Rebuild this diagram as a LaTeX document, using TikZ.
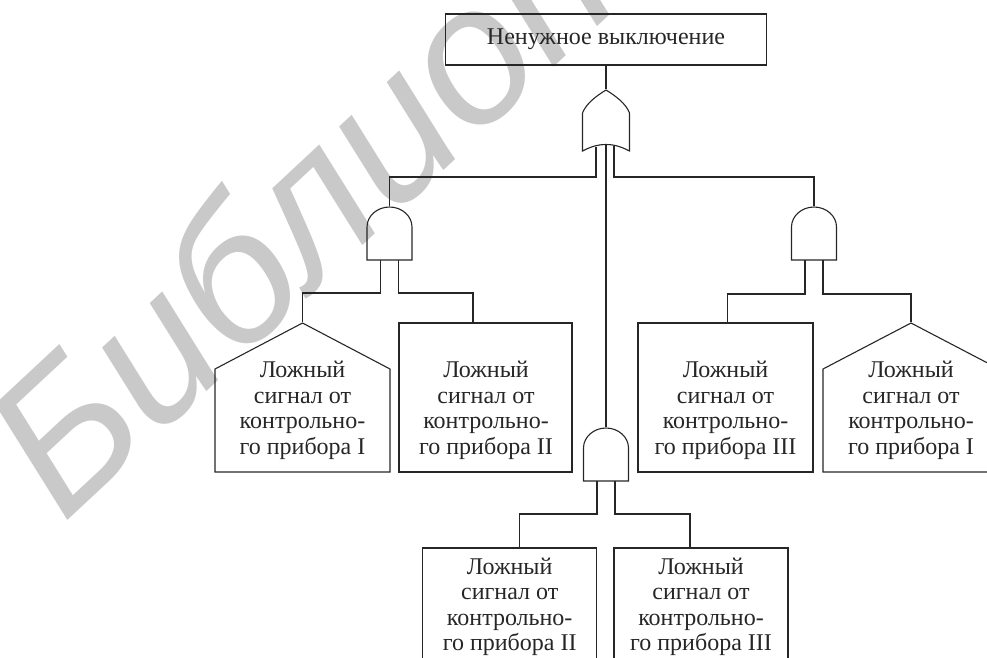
\documentclass[tikz,border=0pt]{standalone}
\usepackage{fontspec}
\setmainfont{Liberation Serif}
\newfontfamily\wmfont{Liberation Sans}
\usetikzlibrary{calc}
\tikzset{
  lbl/.style={font=\fontsize{24}{25.5}\selectfont, align=center, inner sep=0pt},
  evbox/.style={draw, minimum width=#1, minimum height=149pt, inner sep=0pt},
  housebox/.style={minimum width=#1, minimum height=149pt, inner sep=0pt},
  gatebox/.style={minimum width=45pt, minimum height=53pt, inner sep=0pt},
  orbox/.style={minimum width=47pt, minimum height=61pt, inner sep=0pt},
  wm/.style={font=\wmfont\itshape\fontsize{195}{200}\selectfont, text=black!21, inner sep=0pt}
}
\newcommand\myandgate[1]{%
  \begin{scope}[shift={(#1.center)}]
    \draw (-22.5,26.5) -- (-22.5,-6.5) .. controls (-22.5,-17.5) and (-12.4,-26.5) .. (0,-26.5)
      .. controls (12.4,-26.5) and (22.5,-17.5) .. (22.5,-6.5) -- (22.5,26.5) -- cycle;
    \coordinate (#1-l) at (-9,26.5);
    \coordinate (#1-r) at (9,26.5);
  \end{scope}}
\newcommand\myhouse[2]{%
  \begin{scope}[shift={(#1.center)}]
    \draw (-#2,74.5) -- (-#2,-28.5) -- (0,-74.5) -- (#2,-28.5) -- (#2,74.5) -- cycle;
  \end{scope}}
\begin{document}
\begin{tikzpicture}[x=1pt,y=-1pt,line width=1.1pt,color=black!85]
\useasboundingbox (0,0) rectangle (987,657);
% watermark
\node[wm, rotate=43, anchor=base west] (wm) at (63,525) {Библиотека};

% top event
\node[draw, minimum width=320.5pt, minimum height=51pt, inner sep=0pt,
      font=\fontsize{24}{25.5}\selectfont] (top) at (606,39.5) {Ненужное выключение};

% gates
\node[orbox] (or1) at (606,120.5) {};
\node[gatebox] (g1) at (389.5,233.5) {};
\node[gatebox] (g2) at (814,233.5) {};
\node[gatebox] (g3) at (606,454.5) {};

\begin{scope}[shift={(or1.center)}]
  \draw (-23.5,30.5) -- (-23.5,-7.5) .. controls (-20,-17) and (-9,-25) .. (0,-30.5)
    .. controls (9,-25) and (20,-17) .. (23.5,-7.5) -- (23.5,30.5)
    .. controls (13,25) and (6,24) .. (0,24) .. controls (-6,24) and (-13,25) .. (-23.5,30.5) -- cycle;
  \coordinate (or1-l) at (-10,26);
  \coordinate (or1-m) at (0,24);
  \coordinate (or1-r) at (8,25.5);
\end{scope}
\myandgate{g1}
\myandgate{g2}
\myandgate{g3}

% basic events
\node[housebox=175pt] (e1) at (302.5,397.5) {};
\myhouse{e1}{87.5}
\node[evbox=173pt] (e2) at (485.5,397.5) {};
\node[evbox=175pt] (e3) at (725.5,397.5) {};
\node[housebox=176pt] (e4) at (911,397.5) {};
\myhouse{e4}{88}
\node[evbox=174pt] (b1) at (509.7,622.5) {};
\node[evbox=174pt] (b2) at (701,622.5) {};

\node[lbl] (t1) at (302.5,410.25) {Ложный\\сигнал от\\контрольно-\\го прибора I};
\node[lbl] (t2) at (486,410.25) {Ложный\\сигнал от\\контрольно-\\го прибора II};
\node[lbl] (t3) at (725.5,410.25) {Ложный\\сигнал от\\контрольно-\\го прибора III};
\node[lbl] (t4) at (911,410.25) {Ложный\\сигнал от\\контрольно-\\го прибора I};
\node[lbl] (t5) at (509.7,606.75) {Ложный\\сигнал от\\контрольно-\\го прибора II};
\node[lbl] (t6) at (701,606.75) {Ложный\\сигнал от\\контрольно-\\го прибора III};

% connectors
\draw (top.south) -- (or1.north);
\draw (or1-l) -- ++(0,30.5) -| (g1.north);
\draw (or1-r) -- ++(0,31) -| (g2.north);
\draw (or1-m) -- (g3.north);
\draw (g1-l) -- ++(0,33) -| (e1.north);
\draw (g1-r) -- ++(0,33) -| ([xshift=-12.5pt]e2.north);
\draw (g2-l) -- ++(0,34) -| ([xshift=2pt]e3.north);
\draw (g2-r) -- ++(0,34) -| (e4.north);
\draw (g3-l) -- ++(0,33) -| ([xshift=9.5pt]b1.north);
\draw (g3-r) -- ++(0,33) -| ([xshift=-11pt]b2.north);
\end{tikzpicture}
\end{document}
